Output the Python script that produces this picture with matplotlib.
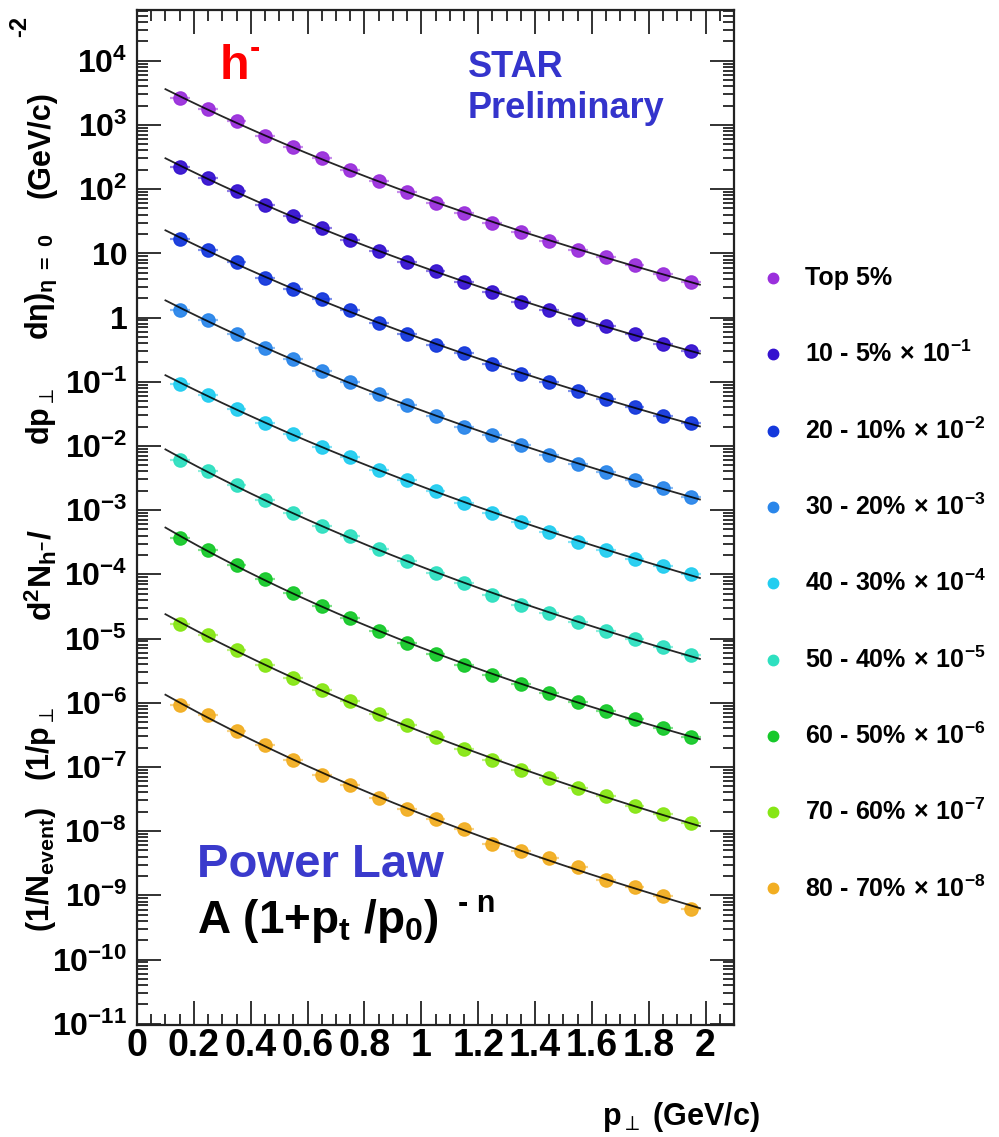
import matplotlib
matplotlib.use("Agg")
import matplotlib.pyplot as plt
from matplotlib.ticker import FixedLocator, MultipleLocator, LogLocator, NullFormatter
import numpy as np

FONT = "Liberation Sans"
plt.rcParams["mathtext.fontset"] = "custom"
plt.rcParams["mathtext.rm"] = FONT + ":bold"
plt.rcParams["mathtext.bf"] = FONT + ":bold"
plt.rcParams["mathtext.it"] = FONT + ":bold"
plt.rcParams["mathtext.fallback"] = "stixsans"

# ---- data ----
pt = [0.15, 0.25, 0.35, 0.45, 0.55, 0.65, 0.75, 0.85, 0.95, 1.05,
      1.15, 1.25, 1.35, 1.45, 1.55, 1.65, 1.75, 1.85, 1.95]

top5 = [2620, 1770, 1140, 662, 453, 305, 200, 135, 89.1, 61.7,
        42.1, 29.7, 21.8, 15.7, 11.1, 8.85, 6.59, 4.82, 3.53]
c10_5 = [221, 149, 92.0, 55.7, 37.6, 24.8, 16.3, 11.0, 7.41, 5.37,
         3.53, 2.49, 1.77, 1.32, 0.962, 0.743, 0.553, 0.391, 0.301]
c20_10 = [16.7, 11.1, 7.31, 4.12, 2.78, 1.94, 1.29, 0.832, 0.553, 0.372,
          0.277, 0.186, 0.134, 0.0977, 0.0716, 0.0533, 0.0411, 0.0291, 0.0224]
c30_20 = [1.32, 0.912, 0.562, 0.339, 0.224, 0.145, 0.0977, 0.0646, 0.0434, 0.0291,
          0.0195, 0.0146, 0.0103, 0.00728, 0.00514, 0.00396, 0.00290, 0.00224, 0.00161]
c40_30 = [0.0912, 0.0617, 0.0380, 0.0229, 0.0151, 0.00955, 0.00661, 0.00427, 0.00290, 0.00198,
          0.00129, 0.000910, 0.000643, 0.000455, 0.000321, 0.000239, 0.000175, 0.000135, 0.000101]
c50_40 = [0.00603, 0.00407, 0.00245, 0.00145, 0.000912, 0.000575, 0.000389, 0.000245, 0.000161, 0.000104,
          7.38e-5, 4.78e-5, 3.38e-5, 2.48e-5, 1.78e-5, 1.30e-5, 1.00e-5, 7.48e-6, 5.48e-6]
c60_50 = [3.63e-4, 2.40e-4, 1.41e-4, 8.32e-5, 5.13e-5, 3.16e-5, 2.09e-5, 1.32e-5, 8.45e-6, 5.68e-6,
          3.87e-6, 2.74e-6, 1.94e-6, 1.42e-6, 1.02e-6, 7.46e-7, 5.57e-7, 4.07e-7, 2.88e-7]
c70_60 = [1.66e-5, 1.12e-5, 6.61e-6, 3.89e-6, 2.45e-6, 1.55e-6, 1.05e-6, 6.76e-7, 4.45e-7, 2.88e-7,
          1.87e-7, 1.26e-7, 8.87e-8, 6.61e-8, 4.68e-8, 3.48e-8, 2.46e-8, 1.87e-8, 1.32e-8]
c80_70 = [9.31e-7, 6.34e-7, 3.57e-7, 2.22e-7, 1.29e-7, 7.57e-8, 5.28e-8, 3.28e-8, 2.19e-8, 1.55e-8,
          1.06e-8, 6.31e-9, 4.91e-9, 3.79e-9, 2.77e-9, 1.74e-9, 1.34e-9, 9.82e-10, 6.14e-10]

series = [top5, c10_5, c20_10, c30_20, c40_30, c50_40, c60_50, c70_60, c80_70]
classes = ["Top 5%", "10 - 5%", "20 - 10%", "30 - 20%", "40 - 30%",
           "50 - 40%", "60 - 50%", "70 - 60%", "80 - 70%"]
scale_exp = [0, -1, -2, -3, -4, -5, -6, -7, -8]
colors = ["#9a2fdc", "#3512cf", "#1438dc", "#2a86ea", "#22cdf0",
          "#2ee0c0", "#16c92a", "#86e614", "#f2ae22"]

W, H = 999, 1137


def fx(px):
    return px / W


def fy(py):
    return 1 - py / H


def fit_power(x, y):
    # A (1 + x/p0)^-n, least squares in log10
    ly = np.log10(y)
    best = None
    for p0 in np.linspace(0.3, 20, 400):
        X = np.column_stack([np.ones_like(x), -np.log10(1 + x / p0)])
        coef = np.linalg.lstsq(X, ly, rcond=None)[0]
        r = np.sum((X @ coef - ly) ** 2)
        if best is None or r < best[0]:
            best = (r, p0, coef)
    return best[1], best[2]


fig = plt.figure(figsize=(9.99, 11.37), dpi=100)
ax = fig.add_axes([fx(137), fy(1025), (734 - 137) / W, (1025 - 10) / H])

x = np.array(pt)
xx = np.linspace(0.1, 1.98, 200)
for ys, col in zip(series, colors):
    y = np.array(ys)
    ax.errorbar(x, y, xerr=0.035, fmt="none", ecolor=col, elinewidth=1.6, alpha=0.55, zorder=2)
    ax.plot(x, y, "o", color=col, ms=9.5, mec=col, alpha=0.95, zorder=3)
    p0, (a, n) = fit_power(x, y)
    ax.plot(xx, 10 ** (a - n * np.log10(1 + xx / p0)), color="black", lw=1.3, alpha=0.85, zorder=4)

ax.set_yscale("log")
ax.set_xlim(0, 2.1)
ax.set_ylim(10 ** -11.02, 10 ** 4.79)

decades = list(range(-11, 5))
ax.yaxis.set_major_locator(FixedLocator([10.0 ** d for d in decades]))
ylabels = []
for d in decades:
    if d == 0:
        ylabels.append("1")
    elif d == 1:
        ylabels.append("10")
    else:
        ylabels.append(r"$\mathbf{10^{%d}}$" % d)
ax.set_yticklabels(ylabels)
ax.yaxis.set_minor_locator(LogLocator(base=10, subs=np.arange(2, 10), numticks=40))
ax.yaxis.set_minor_formatter(NullFormatter())

ax.set_xticks([0, 0.2, 0.4, 0.6, 0.8, 1.0, 1.2, 1.4, 1.6, 1.8, 2.0])
ax.set_xticklabels(["0", "0.2", "0.4", "0.6", "0.8", "1", "1.2", "1.4", "1.6", "1.8", "2"])
ax.xaxis.set_minor_locator(MultipleLocator(0.05))

ax.tick_params(which="both", direction="in", top=True, right=True, width=1.3, color="#222222")
ax.tick_params(which="major", length=17)
ax.tick_params(which="minor", length=8)
ax.tick_params(axis="y", which="major", pad=7)
ax.tick_params(axis="x", which="major", pad=2)
for lab in ax.get_xticklabels():
    lab.set_fontfamily(FONT)
    lab.set_fontweight("bold")
    lab.set_fontsize(27)
for lab in ax.get_yticklabels():
    lab.set_fontfamily(FONT)
    lab.set_fontweight("bold")
    lab.set_fontsize(23)
for s in ax.spines.values():
    s.set_linewidth(1.6)
    s.set_color("#222222")

# y axis title, set in pieces as in the original
ytitle = [
    (41, 869, r"(1/N$_{\mathbf{event}}$)", 22),
    (41, 744, r"(1/p$_{\perp}$", 22),
    (41, 575, r"d$^{\mathbf{2}}$N$_{\mathbf{h^{-}}}$/", 23),
    (41, 416, r"dp$_{\perp}$", 22),
    (41, 287, r"d$\eta$)$_{\eta\ \mathbf{=\ 0}}$", 22),
    (42, 145, "(GeV/c)", 22),
    (20, 26, "-2", 17),
]
for xc, yc, s, fs in ytitle:
    fig.text(fx(xc), fy(yc), s, rotation=90, ha="center", va="center",
             fontsize=fs, fontweight="bold", family=FONT)

fig.text(fx(760), fy(1125), r"p$_{\perp}$ (GeV/c)", ha="right", va="baseline",
         fontsize=22, fontweight="bold", family=FONT)

# annotations
fig.text(fx(220), fy(79), "h", color="#ff0000", fontsize=35, fontweight="bold", family=FONT, va="baseline")
fig.text(fx(250), fy(57), "-", color="#ff0000", fontsize=22, fontweight="bold", family=FONT, va="baseline")
fig.text(fx(468), fy(77), "STAR", color="#3434cc", fontsize=26, fontweight="bold", family=FONT, va="baseline")
fig.text(fx(468), fy(118), "Preliminary", color="#3434cc", fontsize=26, fontweight="bold", family=FONT, va="baseline")
fig.text(fx(197), fy(877), "Power Law", color="#3a3acc", fontsize=34, fontweight="bold", family=FONT, va="baseline")
fig.text(fx(197), fy(933), r"A (1+p$_{\mathbf{t}}$ /p$_{\mathbf{0}}$)", color="black",
         fontsize=33, fontweight="bold", family=FONT, va="baseline")
fig.text(fx(458), fy(912), "- n", color="black", fontsize=22, fontweight="bold", family=FONT, va="baseline")

# legend
for i, (name, e, col) in enumerate(zip(classes, scale_exp, colors)):
    yy = 278 + 76.3 * i
    ax.plot([fx(773)], [fy(yy)], "o", color=col, ms=7.5, transform=fig.transFigure, clip_on=False)
    if e == 0:
        txt = name
    else:
        txt = name + r"$\,\times\,\mathbf{10^{%d}}$" % e
    fig.text(fx(805), fy(yy), txt, ha="left", va="center", fontsize=18,
             fontweight="bold", family=FONT)

fig.savefig("out.png", dpi=100)
